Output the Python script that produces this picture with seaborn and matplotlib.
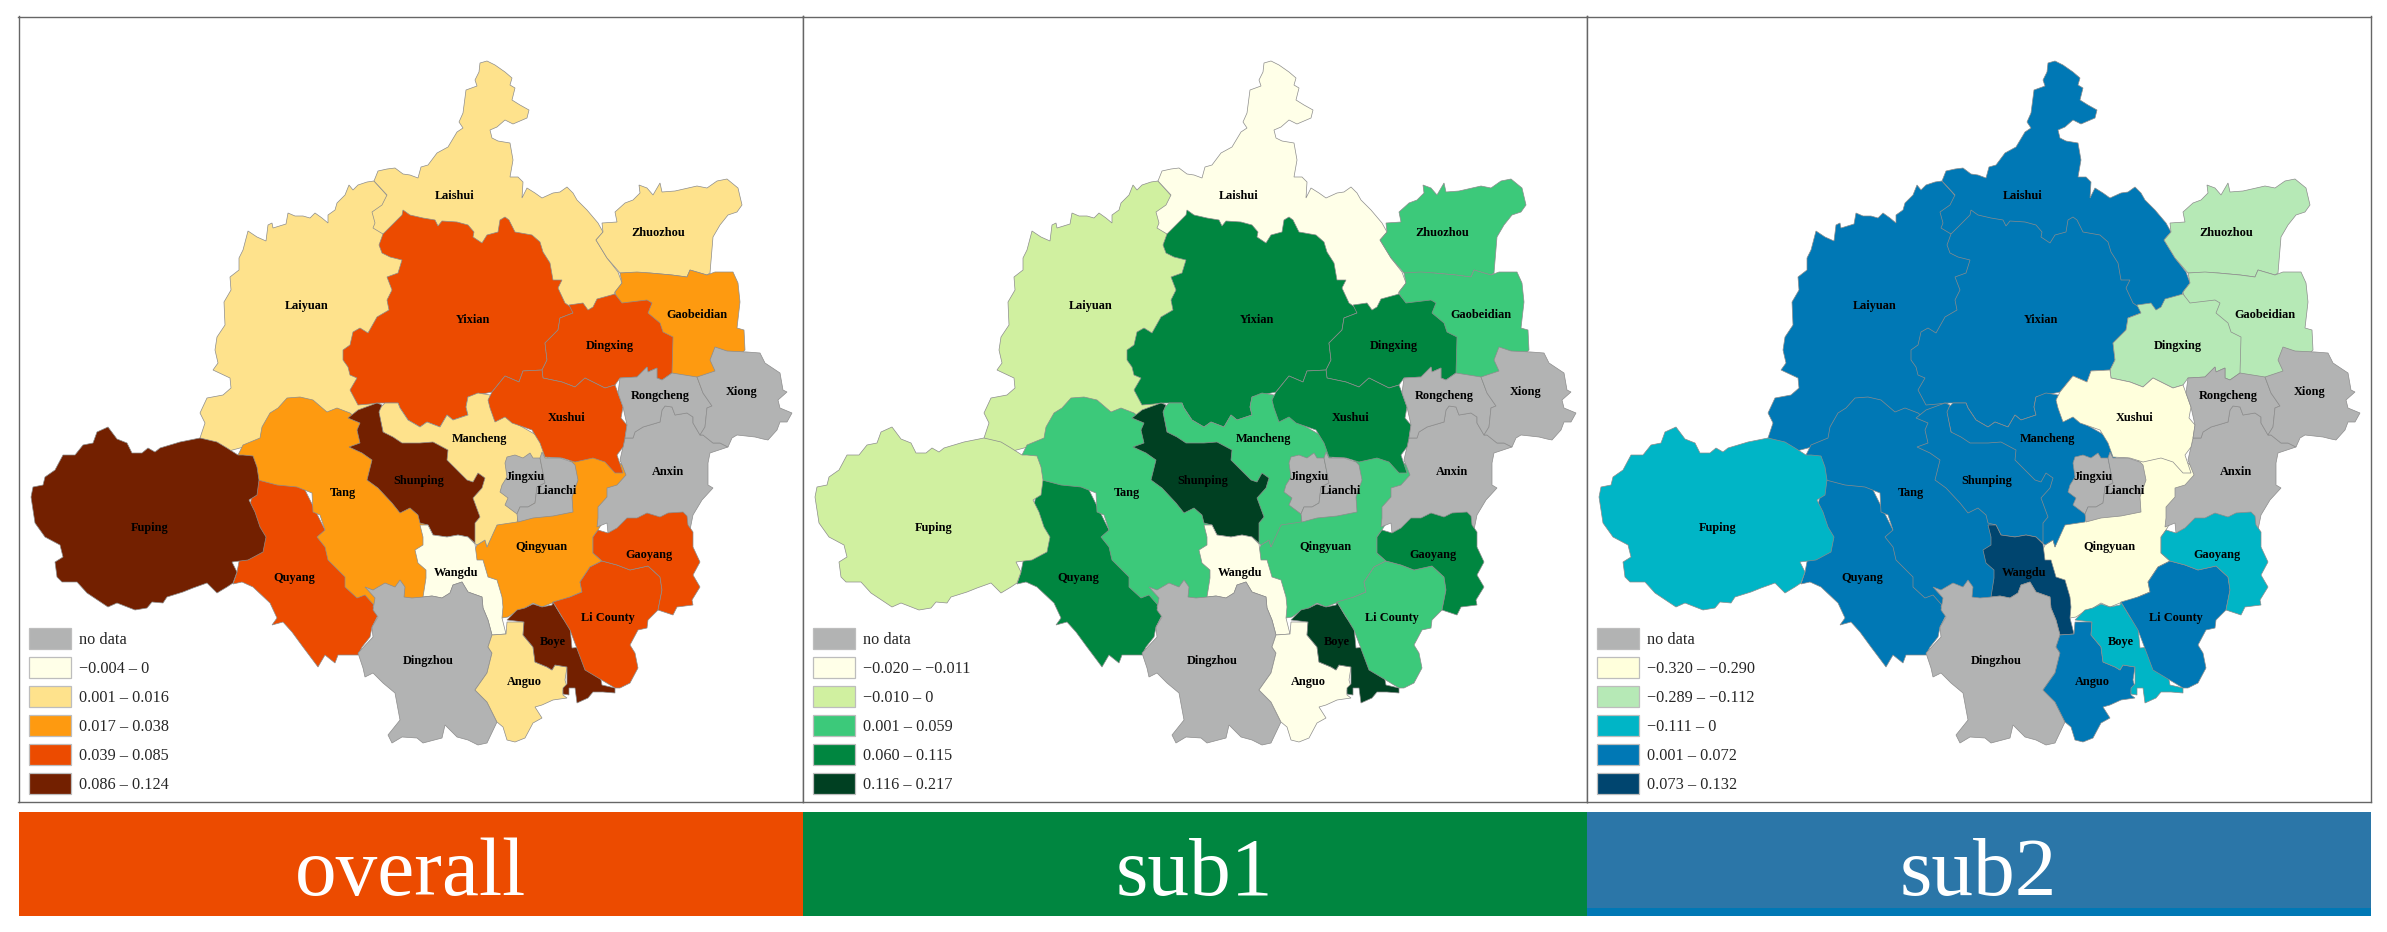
import matplotlib
matplotlib.use('Agg')
import matplotlib.pyplot as plt
from matplotlib.patches import Patch
import seaborn as sns

# County outlines, map units. Later counties are drawn over earlier ones,
# so shared borders only need to be exact on the upper county.
LAIYUAN = [(374,181),(367,182),(358,185),(353,190),(349,185),(345,195),(337,203),(335,210),(328,215),(328,223),(322,218),(315,213),(310,218),(303,216),(295,216),(288,213),(286,224),(273,228),(272,223),(268,225),(266,241),(257,237),(248,231),(243,250),(239,258),(239,270),(230,277),(231,290),(224,302),(225,325),(217,337),(215,350),(218,363),(213,370),(230,378),(231,388),(223,395),(207,398),(200,413),(205,423),(200,438),(225,452),(270,440),(345,425),(370,415),(400,380),(420,240),(400,210)]
LAISHUI = [(374,181),(378,171),(387,169),(395,168),(403,174),(410,175),(418,178),(421,167),(428,165),(437,153),(448,147),(457,132),(463,128),(459,122),(463,113),(466,90),(477,86),(475,80),(479,72),(480,63),(487,61),(495,65),(505,72),(512,78),(510,85),(515,88),(512,100),(520,105),(529,110),(527,118),(513,124),(505,120),(497,127),(490,130),(492,138),(498,141),(510,143),(513,160),(510,177),(518,177),(523,182),(522,198),(527,188),(535,193),(542,198),(553,193),(560,192),(567,187),(573,193),(577,200),(587,210),(598,223),(603,232),(596,240),(607,258),(618,272),(622,283),(615,292),(600,325),(565,315),(500,300),(400,245),(383,234),(373,228),(375,223),(372,212),(382,205),(387,195)]
ZHUOZHOU = [(602,223),(617,222),(615,212),(625,203),(633,200),(640,193),(639,185),(647,188),(653,195),(660,183),(662,192),(675,191),(697,186),(707,188),(717,181),(727,179),(738,188),(742,205),(737,212),(728,215),(720,225),(713,237),(710,273),(707,275),(690,270),(687,277),(672,275),(650,273),(637,273),(620,273),(607,258),(596,240),(603,232)]
GAOBEIDIAN = [(620,273),(637,272),(650,273),(672,275),(687,277),(690,270),(707,275),(715,272),(733,272),(738,283),(740,302),(737,328),(744,330),(745,350),(730,365),(700,390),(660,390),(640,340),(620,310),(615,292),(622,283)]
YIXIAN = [(383,234),(402,215),(403,210),(410,215),(423,218),(435,220),(438,226),(442,221),(457,222),(468,225),(474,232),(473,237),(482,243),(487,235),(498,232),(500,220),(505,217),(509,220),(515,232),(532,235),(540,242),(543,252),(550,263),(553,280),(562,280),(558,288),(565,303),(572,308),(573,313),(560,318),(558,330),(545,343),(547,360),(542,370),(523,371),(519,382),(505,376),(492,392),(468,397),(466,407),(468,415),(453,420),(447,415),(440,427),(427,422),(420,427),(408,420),(400,408),(398,403),(385,403),(377,403),(370,404),(358,405),(350,390),(357,378),(350,375),(348,367),(343,360),(343,350),(350,345),(353,332),(360,328),(368,333),(377,317),(389,310),(387,300),(392,290),(387,277),(398,273),(402,260),(390,257),(382,253),(379,245)]
QUYANG = [(233,584),(237,572),(255,480),(262,478),(300,480),(330,540),(360,585),(375,598),(373,607),(378,615),(372,627),(370,637),(362,647),(358,655),(338,655),(335,663),(325,655),(318,667),(303,647),(292,632),(283,622),(272,625),(277,618),(270,603),(253,587),(242,582)]
TANG = [(238,455),(243,445),(260,438),(262,427),(270,413),(278,408),(287,398),(300,397),(313,400),(327,412),(337,408),(350,413),(365,425),(375,450),(400,490),(430,530),(432,600),(380,612),(365,595),(357,598),(345,587),(345,577),(328,560),(325,547),(317,537),(325,530),(320,515),(313,512),(312,493),(297,487),(277,485),(258,480),(245,470)]
FUPING = [(238,455),(227,448),(217,442),(200,438),(190,440),(180,442),(170,445),(160,448),(155,452),(148,448),(142,453),(132,453),(127,443),(117,439),(108,427),(97,432),(93,443),(83,445),(75,455),(63,455),(55,470),(45,477),(43,485),(33,487),(31,497),(35,523),(45,537),(60,545),(63,557),(55,562),(57,577),(62,582),(77,582),(87,593),(102,603),(108,607),(117,603),(135,610),(147,608),(152,602),(163,603),(167,597),(183,592),(193,588),(207,583),(217,593),(227,587),(233,583),(237,572),(232,562),(248,560),(263,552),(266,537),(260,527),(255,512),(249,500),(257,495),(259,480),(257,467),(253,456),(243,455)]
QINGYUAN = [(495,526),(487,547),(485,540),(477,545),(470,560),(480,580),(495,610),(502,618),(508,617),(517,611),(525,608),(533,603),(542,607),(552,603),(557,602),(570,597),(582,592),(580,582),(590,567),(602,561),(593,553),(593,537),(598,530),(610,510),(630,470),(600,450),(570,450),(570,470),(520,515),(497,525)]
ANXIN = [(625,438),(633,438),(635,432),(643,427),(660,422),(662,410),(665,406),(672,407),(675,415),(687,413),(693,417),(693,423),(700,435),(703,435),(713,443),(720,443),(728,447),(710,453),(708,463),(708,485),(713,488),(702,500),(693,515),(690,530),(610,540),(608,533),(607,523),(597,527),(598,518),(598,507),(607,497),(607,488),(617,485),(626,475),(620,460)]
DINGXING = [(573,313),(569,305),(583,303),(588,310),(593,307),(597,299),(615,294),(622,303),(647,300),(652,303),(648,313),(660,323),(663,332),(673,337),(672,373),(662,380),(657,378),(657,368),(648,372),(647,367),(637,377),(620,378),(615,385),(605,388),(585,378),(575,387),(562,382),(543,378),(542,370),(547,360),(545,343),(558,330),(560,318)]
MANCHENG = [(378,410),(385,403),(398,403),(400,408),(408,420),(420,427),(427,422),(440,427),(447,415),(453,420),(468,415),(466,407),(468,397),(478,393),(490,395),(510,420),(545,440),(550,470),(520,510),(517,522),(497,525),(487,547),(485,540),(477,545),(470,540),(460,500),(430,470),(385,440)]
SHUNPING = [(377,403),(382,405),(379,412),(383,432),(393,437),(402,443),(420,443),(433,442),(448,450),(447,460),(467,480),(473,482),(478,473),(485,478),(482,488),(473,498),(480,517),(475,523),(475,543),(468,537),(458,535),(447,537),(433,535),(428,525),(420,523),(418,515),(410,508),(400,513),(392,503),(378,488),(367,480),(372,460),(362,453),(349,447),(360,443),(357,430),(360,423),(348,418),(358,410)]
WANGDU = [(420,525),(428,525),(433,535),(447,537),(458,535),(468,537),(475,544),(477,560),(483,560),(488,577),(497,580),(502,597),(503,607),(502,618),(506,634),(492,635),(488,620),(483,608),(482,597),(468,592),(462,582),(453,585),(450,593),(442,598),(432,596),(423,597),(426,578),(426,570),(418,563),(415,550),(423,545),(423,537)]
XUSHUI = [(492,392),(505,376),(519,382),(523,371),(542,370),(543,378),(562,382),(575,387),(585,378),(605,388),(615,385),(618,393),(623,407),(621,418),(627,425),(625,438),(623,447),(617,455),(623,473),(615,473),(605,462),(593,458),(575,462),(562,458),(545,457),(540,443),(532,430),(512,423),(505,417),(495,422),(490,408),(488,400)]
RONGCHENG = [(620,378),(637,377),(647,367),(648,372),(657,368),(657,378),(662,380),(672,373),(697,377),(703,393),(712,406),(707,408),(705,427),(700,435),(693,423),(693,417),(687,413),(675,415),(672,407),(665,406),(662,410),(660,422),(643,427),(635,432),(633,438),(625,438),(627,425),(623,407),(618,393)]
XIONG = [(697,377),(715,371),(710,360),(715,347),(727,351),(747,352),(760,353),(765,363),(780,373),(783,390),(787,392),(778,400),(780,408),(792,413),(787,422),(780,422),(777,430),(768,440),(763,439),(755,437),(737,435),(732,438),(728,447),(720,443),(713,443),(703,435),(700,435),(705,427),(707,408),(712,406),(703,393)]
JINGXIU = [(507,457),(515,455),(523,458),(530,453),(533,458),(540,458),(545,483),(537,487),(535,503),(528,507),(520,507),(517,514),(505,505),(508,498),(500,492),(502,485),(507,477),(505,463)]
LIANCHI = [(540,458),(542,452),(545,458),(560,458),(572,462),(575,465),(578,480),(572,497),(573,512),(553,516),(533,518),(518,522),(517,514),(520,507),(528,507),(535,503),(537,487),(545,483)]
DINGZHOU = [(365,587),(373,590),(385,583),(395,587),(400,580),(405,587),(404,597),(412,598),(423,597),(432,596),(442,598),(450,593),(453,585),(462,582),(468,592),(482,597),(483,608),(488,620),(492,635),(488,647),(492,653),(487,673),(475,690),(487,702),(497,722),(487,743),(478,745),(468,740),(457,737),(450,730),(445,725),(442,738),(423,743),(417,738),(402,737),(392,743),(388,735),(400,720),(395,693),(383,683),(373,673),(365,677),(363,668),(358,653),(373,637),(372,627),(378,617),(373,610),(375,598)]
ANGUO = [(507,622),(524,622),(523,635),(533,647),(535,662),(547,667),(552,670),(555,665),(567,667),(565,680),(567,687),(563,690),(563,695),(567,698),(553,700),(542,705),(535,707),(542,718),(533,723),(525,738),(515,742),(507,740),(503,727),(497,722),(487,702),(475,690),(487,673),(492,653),(488,647),(492,635),(506,634)]
BOYE = [(507,620),(517,610),(525,608),(533,604),(542,607),(552,605),(553,602),(562,617),(570,627),(572,648),(582,647),(588,647),(588,653),(583,660),(598,662),(600,675),(602,685),(615,688),(615,693),(603,692),(593,692),(588,698),(577,703),(575,688),(569,688),(569,695),(563,694),(563,688),(567,684),(567,667),(555,665),(552,670),(547,667),(535,662),(533,647),(523,635),(524,622)]
LI_COUNTY = [(553,602),(570,597),(582,592),(580,582),(590,567),(602,561),(617,565),(630,570),(648,566),(660,577),(662,590),(658,610),(648,620),(647,628),(638,630),(630,645),(635,653),(638,668),(630,683),(620,688),(615,688),(585,670),(570,630)]
GAOYANG = [(602,561),(593,553),(593,537),(598,530),(608,533),(617,528),(627,518),(637,518),(647,513),(660,517),(668,513),(683,512),(687,516),(688,525),(693,532),(693,547),(700,562),(693,575),(700,587),(692,600),(693,605),(677,607),(673,615),(658,610),(662,590),(660,577),(648,566),(630,570),(617,565)]

OUTLINES = [LAIYUAN, LAISHUI, ZHUOZHOU, GAOBEIDIAN, YIXIAN, QUYANG, TANG, FUPING, QINGYUAN, ANXIN, DINGXING, MANCHENG,
            SHUNPING, WANGDU, XUSHUI, RONGCHENG, XIONG, JINGXIU, LIANCHI, DINGZHOU, ANGUO, BOYE, LI_COUNTY, GAOYANG]

# class of each county per panel, same order as OUTLINES (0 = no data)
CLASS_OVERALL = [2, 2, 2, 3, 4, 4, 3, 5, 3, 0, 4, 2, 5, 1, 4, 0, 0, 0, 0, 0, 2, 5, 4, 4]
CLASS_SUB1 = [2, 1, 3, 3, 4, 4, 3, 2, 3, 0, 4, 3, 5, 1, 4, 0, 0, 0, 0, 0, 1, 5, 3, 4]
CLASS_SUB2 = [4, 4, 2, 2, 4, 4, 4, 3, 1, 0, 2, 4, 4, 5, 1, 0, 0, 0, 0, 0, 4, 3, 4, 3]

LABELS = ['Laiyuan', 'Laishui', 'Zhuozhou', 'Gaobeidian', 'Yixian', 'Quyang', 'Tang', 'Fuping', 'Qingyuan', 'Anxin', 'Dingxing', 'Mancheng',
          'Shunping', 'Wangdu', 'Xushui', 'Rongcheng', 'Xiong', 'Jingxiu', 'Lianchi', 'Dingzhou', 'Anguo', 'Boye', 'Li County', 'Gaoyang']
LABEL_X = [307, 455, 658, 697, 473, 294, 343, 150, 541, 668, 610, 479, 419, 456, 567, 660, 742, 525, 557, 428, 524, 553, 608, 649]
LABEL_Y = [306, 196, 233, 315, 320, 578, 493, 528, 547, 472, 346, 439, 481, 573, 418, 396, 392, 477, 491, 661, 682, 642, 618, 555]

LEGEND_OVERALL = ['no data', '\u22120.004 \u2013 0', '0.001 \u2013 0.016', '0.017 \u2013 0.038', '0.039 \u2013 0.085', '0.086 \u2013 0.124']
LEGEND_SUB1 = ['no data', '\u22120.020 \u2013 \u22120.011', '\u22120.010 \u2013 0', '0.001 \u2013 0.059', '0.060 \u2013 0.115', '0.116 \u2013 0.217']
LEGEND_SUB2 = ['no data', '\u22120.320 \u2013 \u22120.290', '\u22120.289 \u2013 \u22120.112', '\u22120.111 \u2013 0', '0.001 \u2013 0.072', '0.073 \u2013 0.132']

COLORS_OVERALL = ['#b2b3b3', '#ffffe8', '#fee28c', '#fe9a10', '#ec4b00', '#732000']
COLORS_SUB1 = ['#b2b3b3', '#ffffe8', '#d0f0a0', '#3cc97a', '#008640', '#004022']
COLORS_SUB2 = ['#b2b3b3', '#ffffdc', '#b6e9b6', '#00b5c6', '#0078b5', '#00456f']

PANEL_TITLES = ['overall', 'sub1', 'sub2']
BANNER_COLORS = ['#ec4b00', '#008640', '#2b76a8']

W, H = 2387, 932
PANEL_W = 784
LEFT, TOP, BOTTOM = 18.5, 16.5, 802

sns.set_style('white')
plt.rcParams['font.family'] = ['Liberation Serif', 'DejaVu Serif']

fig = plt.figure(figsize=(W / 100, H / 100), dpi=100)

panels = [(CLASS_OVERALL, LEGEND_OVERALL, COLORS_OVERALL),
          (CLASS_SUB1, LEGEND_SUB1, COLORS_SUB1),
          (CLASS_SUB2, LEGEND_SUB2, COLORS_SUB2)]

for i, (classes, legend_labels, colors) in enumerate(panels):
    palette = sns.color_palette(colors)
    x0 = LEFT + i * PANEL_W

    ax = fig.add_axes([x0 / W, 1 - BOTTOM / H, PANEL_W / W, (BOTTOM - TOP) / H])
    ax.set_xlim(LEFT, LEFT + PANEL_W)
    ax.set_ylim(BOTTOM, TOP)
    ax.set_xticks([])
    ax.set_yticks([])
    for spine in ax.spines.values():
        spine.set_color('#666666')
        spine.set_linewidth(1.0)

    for outline, c in zip(OUTLINES, classes):
        xs, ys = zip(*outline)
        ax.fill(xs, ys, facecolor=palette[c], edgecolor='#8c8c8c', linewidth=0.5)

    for name, lx, ly in zip(LABELS, LABEL_X, LABEL_Y):
        ax.text(lx, ly, name, ha='center', va='center', fontsize=8.8, fontweight='bold', color='black')

    handles = [Patch(facecolor=col, edgecolor='#bdbdbd', linewidth=0.9, label=lab)
               for col, lab in zip(palette, legend_labels)]
    ax.legend(handles=handles, loc='lower left', bbox_to_anchor=(10.5 / PANEL_W, 8 / (BOTTOM - TOP)),
              frameon=False, fontsize=11.7, handlelength=2.58, handleheight=1.61, labelspacing=0.49,
              handletextpad=0.5, borderpad=0, borderaxespad=0)

    # coloured title band under the map
    band = fig.add_axes([x0 / W, 1 - 916 / H, PANEL_W / W, 104 / H])
    band.set_facecolor(BANNER_COLORS[i])
    band.set_xticks([])
    band.set_yticks([])
    sns.despine(ax=band, left=True, bottom=True)
    band.text(0.5, 0.2, PANEL_TITLES[i], transform=band.transAxes, ha='center', va='baseline',
              fontsize=60, color='white')
    if i == 2:
        band.axhspan(0, 0.08, color='#0078b5', lw=0)
        band.set_ylim(0, 1)

fig.savefig('out.png', dpi=100, facecolor='white')
